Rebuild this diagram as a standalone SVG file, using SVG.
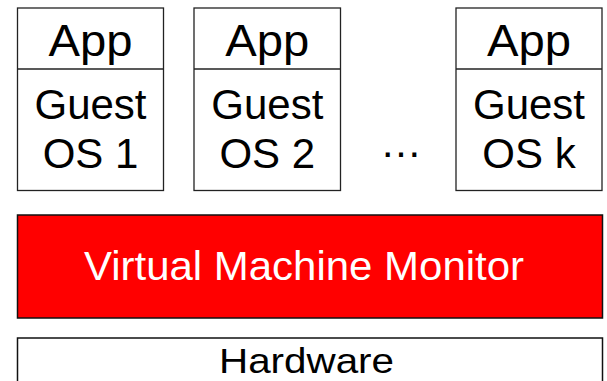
<svg xmlns="http://www.w3.org/2000/svg" width="607" height="381" viewBox="0 0 607 381">
<style>
.box{fill:#fff;stroke:#222;stroke-width:1.3}
.t{font-family:"Liberation Sans",Arial,sans-serif;fill:#000;text-anchor:middle}
.app{font-size:44px}
.os{font-size:42px}
</style>
<rect width="607" height="381" fill="#fff"/>
<g id="vm1">
<rect class="box" x="17.5" y="8" width="146" height="182.5"/>
<line class="box" x1="17.5" y1="69" x2="163.5" y2="69"/>
<text class="t app" x="90.5" y="56" textLength="84" lengthAdjust="spacingAndGlyphs">App</text>
<text class="t os" x="90.5" y="119">Guest</text>
<text class="t os" x="90.5" y="168">OS 1</text>
</g>
<g id="vm2">
<rect class="box" x="194" y="8" width="146.5" height="182.5"/>
<line class="box" x1="194" y1="69" x2="340.5" y2="69"/>
<text class="t app" x="267.3" y="56" textLength="84" lengthAdjust="spacingAndGlyphs">App</text>
<text class="t os" x="267.3" y="119">Guest</text>
<text class="t os" x="267.3" y="168">OS 2</text>
</g>
<g id="ellipsis">
<text class="t os" x="401" y="157">…</text>
</g>
<g id="vmk">
<rect class="box" x="456" y="8" width="146" height="182.5"/>
<line class="box" x1="456" y1="69" x2="602" y2="69"/>
<text class="t app" x="529" y="56" textLength="84" lengthAdjust="spacingAndGlyphs">App</text>
<text class="t os" x="529" y="119">Guest</text>
<text class="t os" x="529" y="168">OS k</text>
</g>
<g id="vmm">
<rect x="17.5" y="215" width="585" height="103" fill="#ff0000" stroke="#111" stroke-width="1.5"/>
<text class="t" x="304" y="280" font-size="40" fill="#fff" style="fill:#fff" textLength="440" lengthAdjust="spacingAndGlyphs">Virtual Machine Monitor</text>
</g>
<g id="hardware">
<rect x="17.5" y="338" width="585" height="60" fill="#fff" stroke="#111" stroke-width="1.5"/>
<text class="t" x="306.5" y="373" font-size="35" textLength="175" lengthAdjust="spacingAndGlyphs">Hardware</text>
</g>
<g id="connectors"></g>
</svg>
